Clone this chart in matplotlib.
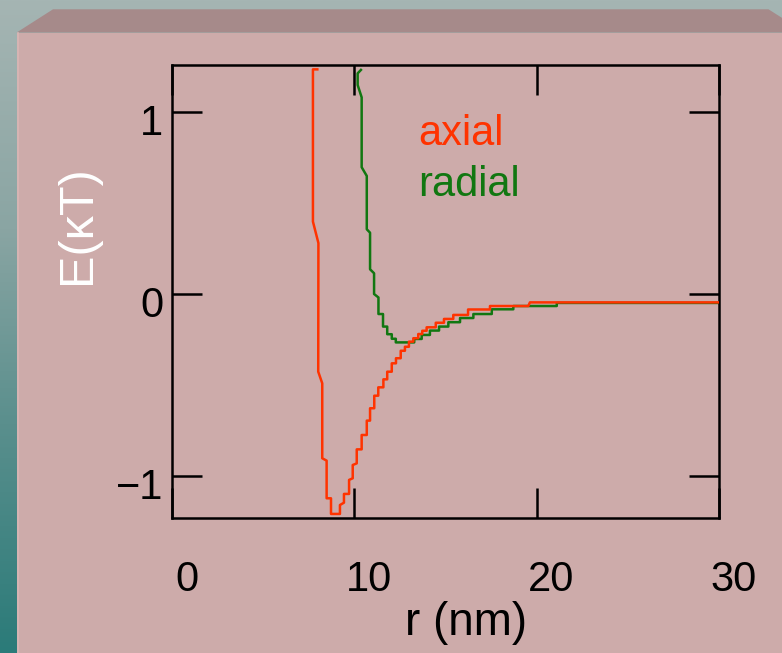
import numpy as np
import matplotlib
matplotlib.use("Agg")
import matplotlib.pyplot as plt
from matplotlib.patches import Polygon, Rectangle
from matplotlib.colors import LinearSegmentedColormap
import matplotlib.transforms as mtransforms

plt.rcParams['font.family'] = ['Liberation Sans', 'DejaVu Sans']

# ---- data ----
axial_r = [7.99, 7.75, 7.75, 8.05, 8.04, 8.26, 8.26, 8.50, 8.50, 8.74, 8.74, 9.23, 9.23, 9.45,
           9.45, 9.73, 9.73, 9.93, 9.93, 10.15, 10.15, 10.42, 10.42, 10.70, 10.70, 10.88,
           10.88, 11.11, 11.11, 11.33, 11.33, 11.61, 11.61, 11.82, 11.82, 12.07, 12.07, 12.30,
           12.30, 12.56, 12.56, 12.79, 12.79, 13.01, 13.01, 13.25, 13.25, 13.52, 13.52, 13.74,
           13.74, 13.98, 13.98, 14.48, 14.48, 14.93, 14.93, 15.44, 15.44, 16.25, 16.25, 17.45,
           17.45, 19.55, 19.64, 30.0]
axial_E = [1.236, 1.236, 0.399, 0.281, -0.426, -0.490, -0.902, -0.915, -1.122, -1.122, -1.208,
           -1.208, -1.159, -1.146, -1.098, -1.098, -1.021, -1.012, -0.939, -0.930, -0.853,
           -0.853, -0.774, -0.774, -0.695, -0.695, -0.627, -0.627, -0.558, -0.558, -0.512,
           -0.512, -0.468, -0.468, -0.426, -0.426, -0.380, -0.380, -0.352, -0.352, -0.311,
           -0.311, -0.289, -0.289, -0.261, -0.261, -0.242, -0.242, -0.219, -0.219, -0.201,
           -0.201, -0.182, -0.182, -0.157, -0.157, -0.136, -0.136, -0.114, -0.114, -0.084,
           -0.084, -0.065, -0.065, -0.045, -0.045]

radial_r = [10.38, 10.20, 10.20, 10.42, 10.42, 10.70, 10.70, 10.88, 10.88, 11.10, 11.10, 11.34,
            11.34, 11.59, 11.59, 11.82, 11.82, 12.07, 12.07, 12.29, 12.29, 13.30, 13.30, 13.71,
            13.71, 14.16, 14.16, 14.66, 14.66, 15.17, 15.17, 15.81, 15.81, 16.54, 16.54, 17.55,
            17.55, 18.73, 18.73, 21.11, 21.11, 30.0]
radial_E = [1.233, 1.214, 1.150, 1.082, 0.698, 0.650, 0.357, 0.338, 0.137, 0.115, 0.001, -0.018,
            -0.109, -0.109, -0.178, -0.178, -0.220, -0.220, -0.245, -0.245, -0.265, -0.265,
            -0.246, -0.246, -0.224, -0.224, -0.200, -0.200, -0.178, -0.178, -0.154, -0.154,
            -0.131, -0.131, -0.109, -0.109, -0.083, -0.083, -0.065, -0.065, -0.048, -0.048]

x_ticks = [0, 10, 20, 30]
y_ticks = [-1, 0, 1]
y_ticklabels = ['\u22121', '0', '1']

W, H = 782, 653
fig = plt.figure(figsize=(W / 100, H / 100), dpi=100)

# ---- background (slide) ----
bg = fig.add_axes([0, 0, 1, 1], zorder=-10)
bg.set_xlim(0, W)
bg.set_ylim(H, 0)
bg.axis('off')
cmap = LinearSegmentedColormap.from_list(
    'slide', [(0.0, '#a5b5b3'), (0.35, '#8aa5a3'), (0.65, '#5a8f8d'), (1.0, '#2b7b79')])
grad = np.linspace(0, 1, 256).reshape(-1, 1)
bg.imshow(grad, cmap=cmap, extent=[0, W, H, 0], aspect='auto', zorder=0)
bg.add_patch(Polygon([(16.7, 32.5), (53, 9.3), (768.5, 9.3), (805, 32.5)],
                     closed=True, facecolor='#a68a8a', edgecolor='none', zorder=1))
bg.add_patch(Rectangle((16.7, 32.5), W, H, facecolor='#cdabaa', edgecolor='none', zorder=1))
bg.plot([17.5, 17.5], [33, H], color='#d9b6b5', lw=1.2, zorder=2)

# ---- main axes ----
ax = fig.add_axes([171.5 / W, 1 - 518.3 / H, (719 - 171.5) / W, (518.3 - 65) / H])
ax.set_facecolor('none')
ax.plot(axial_r, axial_E, color='#ff3300', lw=1.8, zorder=3)
ax.plot(radial_r, radial_E, color='#117711', lw=1.8, zorder=2)
ax.set_xlim(0, 30)
ax.set_ylim(-1.232, 1.26)
ax.set_xticks(x_ticks)
ax.set_xticklabels([str(t) for t in x_ticks])
ax.set_yticks(y_ticks)
ax.set_yticklabels(y_ticklabels)
for s in ax.spines.values():
    s.set_linewidth(1.8)
    s.set_color('black')
ax.tick_params(direction='in', length=21.6, width=1.8, top=True, right=True,
               labelsize=30, colors='black')
ax.tick_params(axis='x', pad=30)
ax.tick_params(axis='y', pad=6)

dx = mtransforms.ScaledTranslation(15 / 100, 0, fig.dpi_scale_trans)
for lab in ax.get_xticklabels():
    lab.set_transform(lab.get_transform() + dx)
dy = mtransforms.ScaledTranslation(0, -7 / 100, fig.dpi_scale_trans)
for lab in ax.get_yticklabels():
    lab.set_transform(lab.get_transform() + dy)

ax.set_xlabel('r (nm)', fontsize=33)
ax.xaxis.set_label_coords((466 - 171.5) / 547.5, (518.3 - 601) / 453.3)
ax.set_ylabel('E(\u03baT)', fontsize=35, color='white')
ax.yaxis.set_label_coords((100 - 171.5) / 547.5, (518.3 - 225) / 453.3)

ax.text(13.5, 0.82, 'axial', color='#ff3300', fontsize=30, va='baseline', ha='left')
ax.text(13.5, 0.54, 'radial', color='#117711', fontsize=30, va='baseline', ha='left')

fig.savefig('out.png', dpi=100)
